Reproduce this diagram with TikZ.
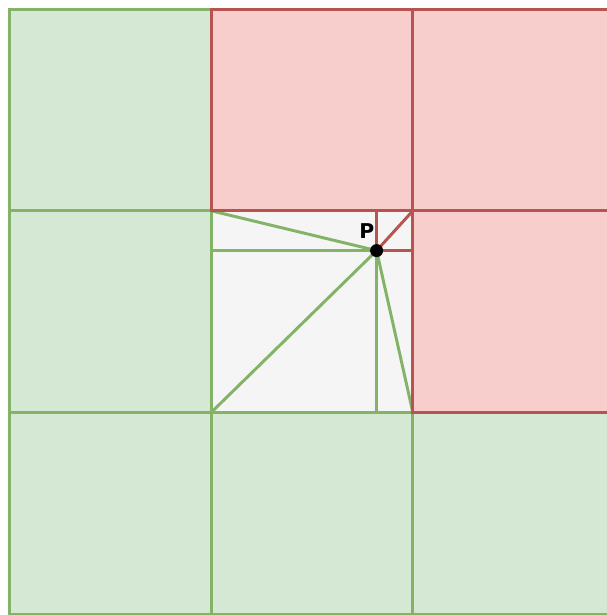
\documentclass[tikz,border=0pt]{standalone}
\usepackage{fontspec}
\newfontfamily\labelfont{DejaVu Sans}
\usepackage{xcolor}
\usetikzlibrary{positioning}

\definecolor{greenfill}{HTML}{D5E8D4}
\definecolor{greenline}{HTML}{82B366}
\definecolor{redfill}{HTML}{F8CECC}
\definecolor{redline}{HTML}{B85450}
\definecolor{grayfill}{HTML}{F5F5F5}

\begin{document}
\begin{tikzpicture}[
      x=0.025cm, y=-0.025cm,
      node distance=0pt,
      % Styling cells
      cell/.style={
        rectangle,
        minimum size=5.04cm,
        inner sep=0pt,
        outer sep=0pt,
        line width=2.1pt
      },
      greencell/.style={cell, fill=greenfill, draw=greenline},
      redcell/.style={cell, fill=redfill, draw=redline},
      centercell/.style={cell, fill=grayfill},
      greenseg/.style={draw=greenline, line width=2.1pt},
      redseg/.style={draw=redline, line width=2.1pt}
    ]
    \useasboundingbox (0,0) rectangle (606,615);

    % Center cell first, its border is hidden by the neighbours
    \node (mm) [centercell, anchor=north west] at (211.2,210.8) {};

    % Green cells
    \node (ml) [greencell, left=of mm] {};
    \node (tl) [greencell, above=of ml] {};
    \node (bl) [greencell, below=of ml] {};
    \node (bm) [greencell, below=of mm] {};
    \node (br) [greencell, right=of bm] {};

    % Point inside the center cell
    \coordinate (P) at (376.6,250.6);

    % Green segments from P
    \draw[greenseg] (mm.north west) -- (P);
    \draw[greenseg] (mm.west |- P) -- (P);
    \draw[greenseg] (mm.south west) -- (P);
    \draw[greenseg] (P) -- (P |- mm.south);
    \draw[greenseg] (P) -- (mm.south east);

    % Red cells
    \node (tm) [redcell, above=of mm] {};
    \node (tr) [redcell, right=of tm] {};
    \node (mr) [redcell, right=of mm] {};

    % Red segments from P
    \draw[redseg] (P) -- (P |- mm.north);
    \draw[redseg] (P) -- (mm.east |- P);
    \draw[redseg] (P) -- (mm.north east);

    % The point and its label
    \fill (P) circle (6.5);
    \node (plabel) at (366.8,231) {\labelfont\bfseries\fontsize{14.5}{17}\selectfont P};

  \end{tikzpicture}
\end{document}
